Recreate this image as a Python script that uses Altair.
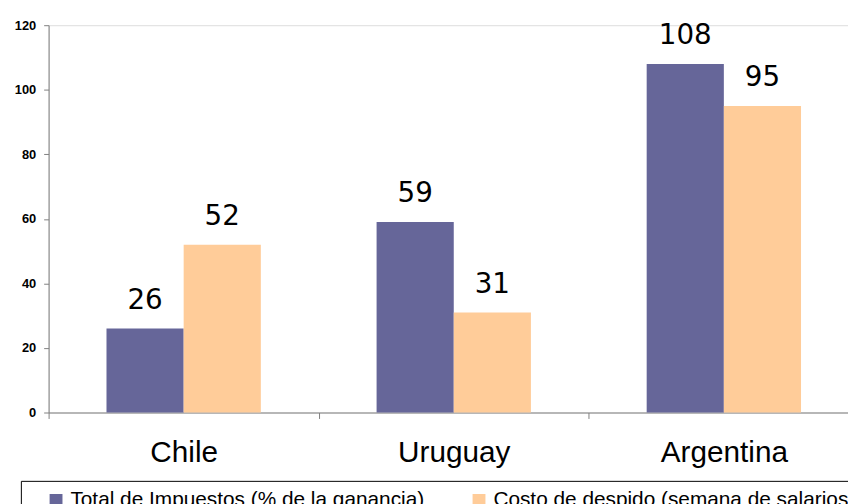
import altair as alt
import pandas as pd

countries = ["Chile", "Uruguay", "Argentina"]
series = ["Total de Impuestos (% de la ganancia)", "Costo de despido (semana de salarios)"]
impuestos = [26, 59, 108]
despido = [52, 31, 95]
colors = ["#666699", "#FFCC99"]

rows = []
for c, a, b in zip(countries, impuestos, despido):
    rows.append({"pais": c, "serie": series[0], "valor": a})
    rows.append({"pais": c, "serie": series[1], "valor": b})
df = pd.DataFrame(rows)

x_scale = alt.Scale(paddingInner=0, paddingOuter=0)

x_enc = alt.X(
    "pais:N",
    sort=countries,
    title=None,
    scale=x_scale,
    axis=alt.Axis(
        labelAngle=0,
        labelFont="Liberation Sans",
        labelFontSize=30,
        labelColor="black",
        labelPadding=19,
        tickBand="extent",
        tickSize=6,
        tickColor="#808080",
        domainColor="#808080",
        grid=False,
    ),
)
xo_enc = alt.XOffset(
    "serie:N", sort=series, scale=alt.Scale(paddingOuter=0.75, paddingInner=0)
)
y_enc = alt.Y(
    "valor:Q",
    title=None,
    scale=alt.Scale(domain=[0, 120], nice=False),
    axis=alt.Axis(
        values=[0, 20, 40, 60, 80, 100, 120],
        labelFont="Liberation Sans",
        labelFontSize=13,
        labelFontWeight="bold",
        labelColor="black",
        labelPadding=8,
        tickSize=5,
        tickColor="#808080",
        domainColor="#808080",
        grid=False,
    ),
)

bars = alt.Chart(df).mark_bar().encode(
    x=x_enc,
    xOffset=xo_enc,
    y=y_enc,
    color=alt.Color(
        "serie:N",
        sort=series,
        scale=alt.Scale(domain=series, range=colors),
        legend=alt.Legend(
            title=None,
            orient="none",
            direction="horizontal",
            legendX=-28,
            legendY=460,
            strokeColor="black",
            fillColor="white",
            padding=9,
            symbolType="square",
            symbolSize=169,
            symbolStrokeWidth=0,
            symbolOffset=16,
            labelOffset=4,
            labelFont="Liberation Sans",
            labelFontSize=21,
            labelColor="black",
            labelLimit=500,
            columnPadding=28,
        ),
    ),
)

labels = alt.Chart(df).mark_text(
    font="DejaVu Sans", fontSize=28, baseline="alphabetic", dy=-20, color="black"
).encode(
    x=alt.X("pais:N", sort=countries, scale=x_scale),
    xOffset=alt.XOffset("serie:N", sort=series),
    y="valor:Q",
    text="valor:Q",
)

chart = (
    alt.layer(bars, labels)
    .properties(
        width=818,
        height=391,
        autosize=alt.AutoSizeParams(type="none"),
        padding={"left": 41, "top": 15, "right": -11, "bottom": 90},
    )
    .configure_view(stroke=None)
    .configure(background="white")
)

chart.save("out.html", embed_options={"renderer": "svg", "actions": False})
